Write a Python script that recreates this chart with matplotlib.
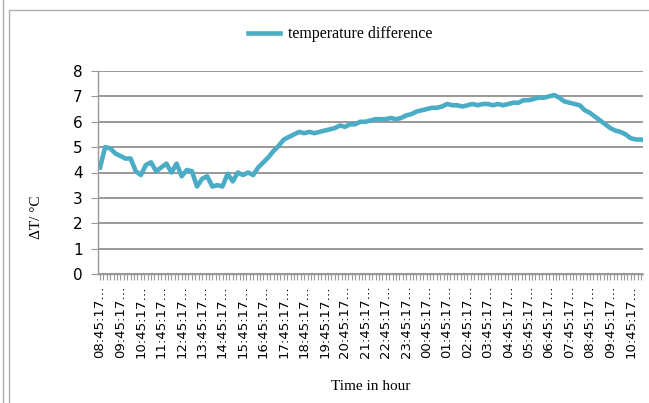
import matplotlib
matplotlib.use('Agg')
import matplotlib.pyplot as plt
import numpy as np

delta_t = [
    4.20, 5.00, 4.95, 4.75, 4.65, 4.55, 4.55, 4.05, 3.90, 4.30,
    4.40, 4.05, 4.20, 4.35, 4.00, 4.35, 3.85, 4.10, 4.05, 3.45,
    3.75, 3.85, 3.45, 3.50, 3.45, 3.95, 3.65, 4.00, 3.90, 4.00,
    3.90, 4.20, 4.40, 4.60, 4.85, 5.05, 5.30, 5.40, 5.50, 5.60,
    5.55, 5.60, 5.55, 5.60, 5.65, 5.70, 5.75, 5.85, 5.80, 5.90,
    5.90, 6.00, 6.00, 6.05, 6.10, 6.10, 6.10, 6.15, 6.10, 6.15,
    6.25, 6.30, 6.40, 6.45, 6.50, 6.55, 6.55, 6.60, 6.70, 6.65,
    6.65, 6.60, 6.65, 6.70, 6.65, 6.70, 6.70, 6.65, 6.70, 6.65,
    6.70, 6.75, 6.75, 6.85, 6.85, 6.90, 6.95, 6.95, 7.00, 7.05,
    6.95, 6.80, 6.75, 6.70, 6.65, 6.45, 6.35, 6.20, 6.05, 5.90,
    5.75, 5.65, 5.60, 5.50, 5.35, 5.30, 5.30, 5.25,
]
hours = np.arange(len(delta_t)) * 0.25  # hours since 08:45:17

tick_labels = ['08', '09', '10', '11', '12', '13', '14', '15', '16', '17',
               '18', '19', '20', '21', '22', '23', '00', '01', '02', '03',
               '04', '05', '06', '07', '08', '09', '10']

line_color = '#4BACC6'
grid_color = '#888888'
serif = 'Liberation Serif'

fig = plt.figure(figsize=(6.49, 4.03), dpi=100)
ax = fig.add_axes([98 / 649, 1 - 274 / 403, 545 / 649, 203 / 403])

ax.plot(hours, delta_t, color=line_color, linewidth=3.3,
        solid_joinstyle='round', label='temperature difference')

ax.set_ylim(0, 8)
ax.set_xlim(-0.1, 26.6)
ax.set_yticks(range(0, 9))
ax.set_xticks(range(len(tick_labels)))
ax.set_xticklabels([f'{h}:45:17\u2026' for h in tick_labels], rotation=90,
                   fontsize=9.5, family='DejaVu Sans')
ax.set_xticks(np.arange(0, 26.6, 1 / 6), minor=True)
ax.tick_params(axis='x', which='both', length=4, width=0.8, color='#999999',
               direction='out', pad=4)
ax.tick_params(axis='y', length=5, width=0.8, color='#999999',
               labelsize=11, pad=6)

ax.grid(True, axis='y', color=grid_color, linewidth=1.2)
ax.set_axisbelow(True)
for side in ['top', 'right']:
    ax.spines[side].set_visible(False)
for side in ['left', 'bottom']:
    ax.spines[side].set_color('#999999')
    ax.spines[side].set_linewidth(1.0)

ax.set_xlabel('Time in hour', family=serif, fontsize=11)
ax.xaxis.set_label_coords(0.5, -0.52)
ax.set_ylabel('\u0394T/ \u00b0C', family=serif, fontsize=11)
ax.yaxis.set_label_coords(-0.1, 0.28)

ax.legend(loc='center', bbox_to_anchor=(0.445, 1.18), frameon=False,
          prop={'family': serif, 'size': 11.5}, handlelength=2.0,
          handletextpad=0.5)

# chart frame
fig.add_artist(plt.Line2D([3 / 649, 3 / 649], [0, 1], color='#b0b0b0',
                          linewidth=1, transform=fig.transFigure))
fig.add_artist(plt.Line2D([9 / 649, 9 / 649, 1], [0, 1 - 10 / 403, 1 - 10 / 403],
                          color='#b0b0b0', linewidth=1, transform=fig.transFigure))

fig.savefig('out.png', dpi=100)
plt.close(fig)
